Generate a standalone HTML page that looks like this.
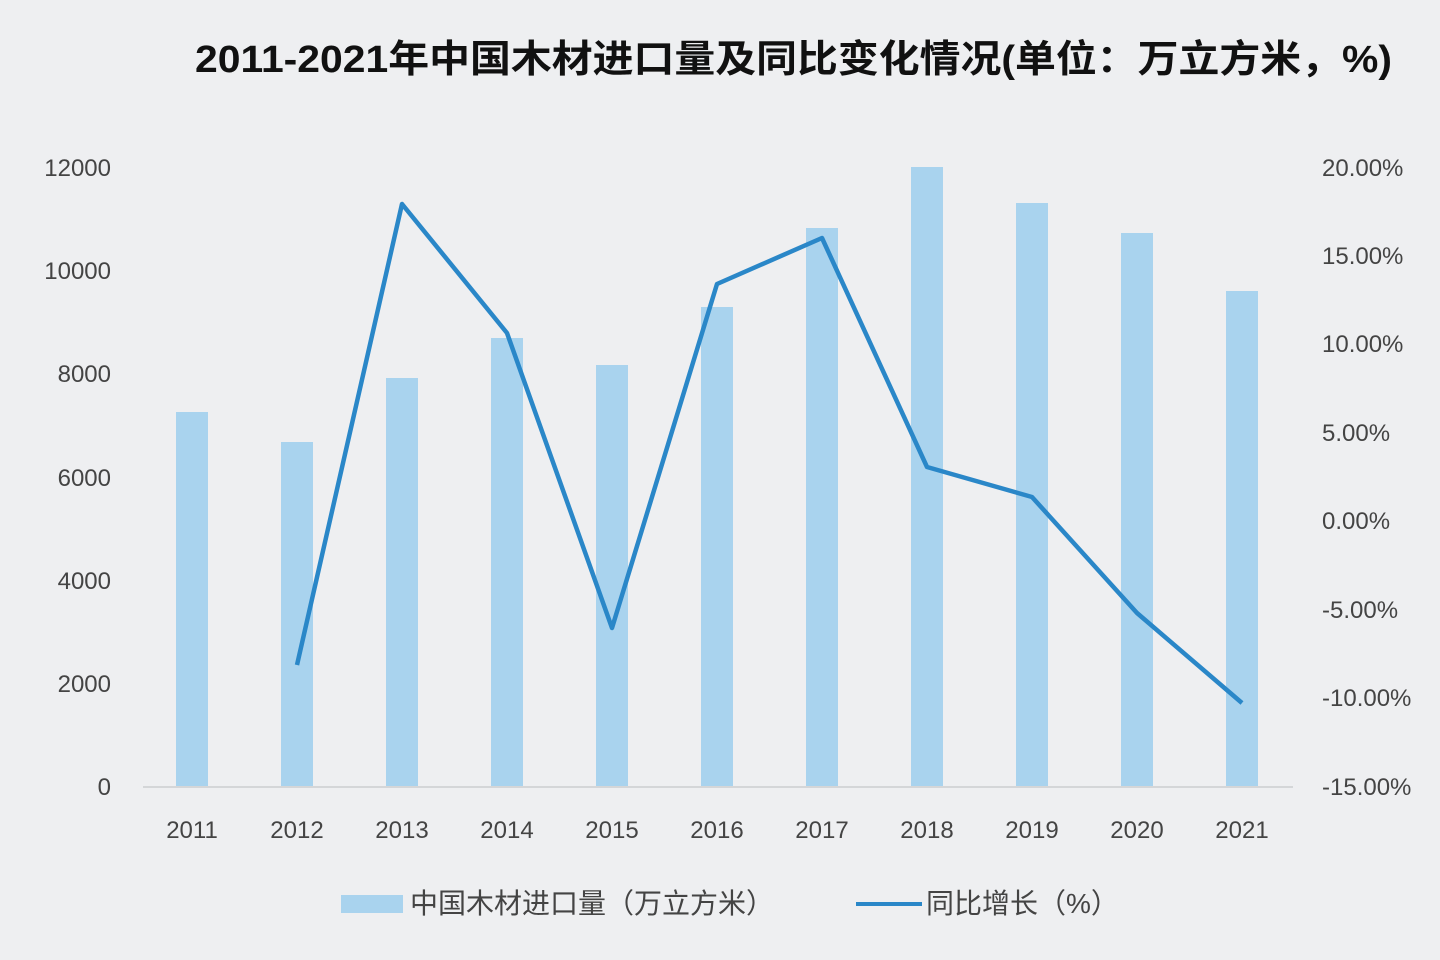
<!DOCTYPE html>
<html><head><meta charset="utf-8"><style>
html,body{margin:0;padding:0;background:#eeeff1;}
svg{display:block}
text{font-family:"Liberation Sans","Noto Sans CJK SC",sans-serif;}
</style></head><body>
<svg width="1440" height="960" viewBox="0 0 1440 960" xmlns="http://www.w3.org/2000/svg">
<rect width="1440" height="960" fill="#eeeff1"/>
<text x="195" y="72" font-size="38" font-weight="bold" fill="#111" textLength="1197" lengthAdjust="spacingAndGlyphs">2011-2021年中国木材进口量及同比变化情况(单位：万立方米，%)</text>
<g font-size="24" fill="#444" text-anchor="end">
<text x="111" y="176">12000</text>
<text x="111" y="279">10000</text>
<text x="111" y="382">8000</text>
<text x="111" y="486">6000</text>
<text x="111" y="589">4000</text>
<text x="111" y="692">2000</text>
<text x="111" y="795">0</text>
</g>
<g font-size="24" fill="#444" text-anchor="start">
<text x="1322" y="176">20.00%</text>
<text x="1322" y="264">15.00%</text>
<text x="1322" y="352">10.00%</text>
<text x="1322" y="441">5.00%</text>
<text x="1322" y="529">0.00%</text>
<text x="1322" y="618">-5.00%</text>
<text x="1322" y="706">-10.00%</text>
<text x="1322" y="795">-15.00%</text>
</g>
<g fill="#a9d3ee">
<rect x="176" y="412" width="32" height="374"/>
<rect x="281" y="442" width="32" height="344"/>
<rect x="386" y="378" width="32" height="408"/>
<rect x="491" y="338" width="32" height="448"/>
<rect x="596" y="365" width="32" height="421"/>
<rect x="701" y="307" width="32" height="479"/>
<rect x="806" y="228" width="32" height="558"/>
<rect x="911" y="167" width="32" height="619"/>
<rect x="1016" y="203" width="32" height="583"/>
<rect x="1121" y="233" width="32" height="553"/>
<rect x="1226" y="291" width="32" height="495"/>
</g>
<line x1="143" y1="787" x2="1293" y2="787" stroke="#d4d6d8" stroke-width="2"/>
<polyline points="297,665 402,204 507,333 612,628 717,284 822,238 927,467 1032,497 1137,613 1242,703" fill="none" stroke="#2a87c8" stroke-width="4.5" stroke-linejoin="round"/>
<g font-size="24" fill="#444" text-anchor="middle">
<text x="192" y="838">2011</text><text x="297" y="838">2012</text><text x="402" y="838">2013</text>
<text x="507" y="838">2014</text><text x="612" y="838">2015</text><text x="717" y="838">2016</text>
<text x="822" y="838">2017</text><text x="927" y="838">2018</text><text x="1032" y="838">2019</text>
<text x="1137" y="838">2020</text><text x="1242" y="838">2021</text>
</g>
<rect x="341" y="895" width="62" height="18" fill="#a9d3ee"/>
<text x="410" y="913" font-size="28" fill="#444">中国木材进口量（万立方米）</text>
<line x1="856" y1="904" x2="922" y2="904" stroke="#2a87c8" stroke-width="4"/>
<text x="926" y="913" font-size="28" fill="#444">同比增长（%）</text>
</svg>
</body></html>
